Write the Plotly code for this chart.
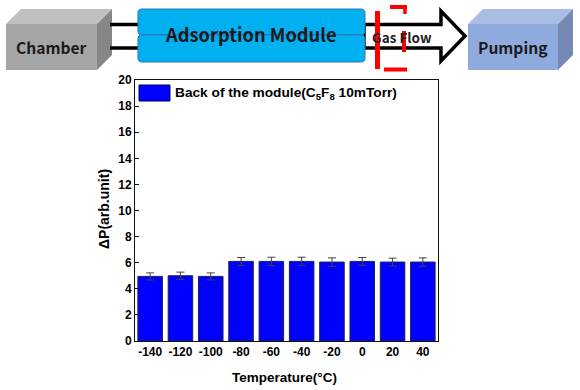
import plotly.graph_objects as go

temps = ["-140", "-120", "-100", "-80", "-60", "-40", "-20", "0", "20", "40"]
delta_p = [4.95, 5.0, 4.95, 6.1, 6.1, 6.1, 6.05, 6.1, 6.05, 6.05]
errors = [0.27, 0.28, 0.27, 0.3, 0.32, 0.32, 0.32, 0.3, 0.3, 0.32]
y_ticks = list(range(0, 21, 2))

W, H = 580, 390
def px(x): return x / W
def py(y): return 1 - y / H
def path(pts):
    return "M " + " L ".join(f"{px(x):.4f},{py(y):.4f}" for x, y in pts) + " Z"
def poly(pts, fill, line="rgba(0,0,0,0)", lw=0):
    return dict(type="path", xref="paper", yref="paper", path=path(pts), fillcolor=fill,
                line=dict(color=line, width=lw), layer="above")
def seg(x0, y0, x1, y1, color, w):
    return dict(type="line", xref="paper", yref="paper", x0=px(x0), y0=py(y0), x1=px(x1), y1=py(y1),
                line=dict(color=color, width=w), layer="above")

def box3d(x0, x1, y0, y1, d, front, top, side):
    return [
        poly([(x0, y0), (x0 + d, y0 - d), (x1 + d, y0 - d), (x1, y0)], top),
        poly([(x1, y0), (x1 + d, y0 - d), (x1 + d, y1 - d), (x1, y1)], side),
        poly([(x0, y0), (x1, y0), (x1, y1), (x0, y1)], front),
    ]

def rrect(x0, y0, x1, y1, fill, line):
    r = 4
    p = (f"M {px(x0+r):.4f},{py(y0):.4f} L {px(x1-r):.4f},{py(y0):.4f} "
         f"Q {px(x1):.4f},{py(y0):.4f} {px(x1):.4f},{py(y0+r):.4f} L {px(x1):.4f},{py(y1-r):.4f} "
         f"Q {px(x1):.4f},{py(y1):.4f} {px(x1-r):.4f},{py(y1):.4f} L {px(x0+r):.4f},{py(y1):.4f} "
         f"Q {px(x0):.4f},{py(y1):.4f} {px(x0):.4f},{py(y1-r):.4f} L {px(x0):.4f},{py(y0+r):.4f} "
         f"Q {px(x0):.4f},{py(y0):.4f} {px(x0+r):.4f},{py(y0):.4f} Z")
    return dict(type="path", xref="paper", yref="paper", path=p, fillcolor=fill,
                line=dict(color=line, width=1), layer="above")

shapes = []
shapes += box3d(6, 97, 24, 70, 15, "#a6a6a6", "#c0c0c0", "#868686")
shapes += [seg(110, 24.5, 138, 24.5, "black", 3.5), seg(110, 48, 138, 48, "black", 3.5)]
shapes.append(poly([(364, 24.5), (441, 24.5), (441, 11), (465, 36), (441, 61), (441, 48), (364, 48)],
                   "white", "black", 3.5))
shapes += [rrect(138, 9, 365, 35, "#00b0f0", "#2e75b6"), rrect(138, 35, 365, 62, "#00b0f0", "#2e75b6")]
shapes += box3d(468, 558, 24, 70, 15, "#8faadc", "#a9bde3", "#7489b3")
shapes += [
    seg(377.5, 11, 377.5, 69, "#ff0000", 5),
    seg(390, 7, 407, 7, "#ff0000", 4),
    seg(405, 5, 405, 14, "#ff0000", 3.5),
    seg(404, 31, 404, 52, "#ff0000", 4),
    seg(384, 69.5, 407, 69.5, "#ff0000", 4),
]
shapes += [
    dict(type="rect", xref="paper", yref="paper", x0=px(139), y0=py(85), x1=px(170), y1=py(101),
         fillcolor="#0000ff", line=dict(color="#000060", width=1), layer="above"),
]

def note(x, y, text, size, color="#1a1a1a", anchor="center", font="Noto Sans CJK KR, Noto Sans"):
    return dict(xref="paper", yref="paper", x=px(x), y=py(y), text=text, showarrow=False,
                xanchor=anchor, yanchor="middle", font=dict(size=size, color=color, family=font))

annotations = [
    note(51.5, 47, "<b>Chamber</b>", 15.6),
    note(250.5, 34, "<b>Adsorption Module</b>", 18.3),
    note(402, 37, "<b>Gas Flow</b>", 13.5, "#222222"),
    note(513, 47, "<b>Pumping</b>", 15.6),
    note(284, 377, "<b>Temperature(°C)</b>", 13.5, "black", font="Liberation Sans"),
    dict(xref="paper", yref="paper", x=px(104), y=py(209), text="<b>ΔP(arb.unit)</b>", showarrow=False,
         textangle=-90, xanchor="center", yanchor="middle",
         font=dict(size=14, color="black", family="Liberation Sans")),
    note(173, 93, "<b>Back of the module(C<sub>5</sub>F<sub>8</sub> 10mTorr)</b>", 13.7, "black", "left", "Liberation Sans"),
]

fig = go.Figure(go.Bar(
    x=temps, y=delta_p,
    marker=dict(color="#0000ff", line=dict(color="#222244", width=1)),
    width=0.81,
    error_y=dict(type="data", array=errors, color="#444444", thickness=1, width=4),
))
fig.update_layout(
    width=W, height=H, margin=dict(l=0, r=0, t=0, b=0, autoexpand=False),
    paper_bgcolor="white", plot_bgcolor="white", showlegend=False,
    shapes=shapes, annotations=annotations,
    font=dict(family="Liberation Sans", color="black"),
    xaxis=dict(domain=[px(135), px(438)], type="category", categoryorder="array", categoryarray=temps,
               range=[-0.5, 9.5], showline=True, linecolor="#111111", linewidth=1, mirror=True,
               ticks="", showgrid=False, tickfont=dict(size=12, family="Liberation Sans", weight="bold")),
    yaxis=dict(domain=[py(341), py(80)], range=[0, 20], tickvals=y_ticks, showline=True, linecolor="#111111",
               linewidth=1, mirror=True, ticks="inside", ticklen=4, tickcolor="#111111", showgrid=False,
               zeroline=False, tickfont=dict(size=12, family="Liberation Sans", weight="bold")),
)
fig.write_html("out.html", config={"displayModeBar": False},
               post_script="document.body.style.margin='0';document.documentElement.style.overflow='hidden';")
